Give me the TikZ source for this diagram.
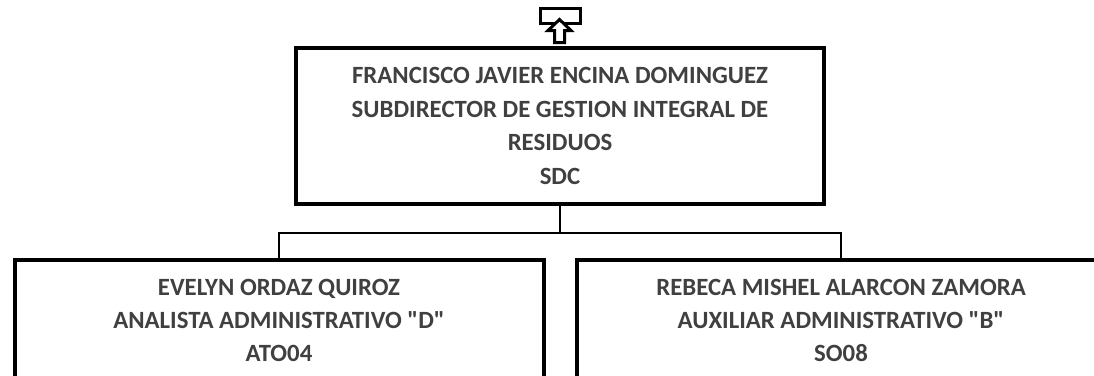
\documentclass[tikz,border=0pt]{standalone}
\usepackage{fontspec}
\setmainfont{Carlito}
\usepackage{xcolor}
\definecolor{texto}{HTML}{404040}

\begin{document}
\begin{tikzpicture}[x=1pt, y=1pt,
  level distance=194pt, sibling distance=562pt,
  edge from parent/.style={draw, line width=1.6pt},
  edge from parent path={(\tikzparentnode.south) -- +(0pt,-27pt)
    -| (\tikzchildnode.north)},
  puesto/.style={shape=rectangle, draw, line width=4pt, align=center,
    text=texto, font=\fontsize{24.8}{33}\selectfont\bfseries,
    minimum width=529pt, minimum height=120pt},
  jefe/.style={puesto, minimum width=528pt, minimum height=156pt,
    font=\fontsize{24.8}{33.7}\selectfont\bfseries}]
  \useasboundingbox (0,0) rectangle (1094,-375);
  % recuadro con la flecha de arriba
  \node[draw, line width=3pt, minimum width=40pt, minimum height=15pt,
    inner sep=0pt] (arriba) at (560.5,-16) {};
  \draw[line width=3pt, fill=white] (559.5,-19.5) -- (571,-30.5)
    -- (564.5,-30.5) -- (564.5,-42.5) -- (554.5,-42.5) -- (554.5,-30.5)
    -- (548,-30.5) -- cycle;
  \node[jefe] (sdc) at (560,-126) {FRANCISCO JAVIER ENCINA DOMINGUEZ\\
      SUBDIRECTOR DE GESTION INTEGRAL DE\\ RESIDUOS\\ SDC}
    child { node[puesto] (ato) {EVELYN ORDAZ QUIROZ\\
      ANALISTA ADMINISTRATIVO \textquotedbl D\textquotedbl\\ ATO04} }
    child { node[puesto] (so) {REBECA MISHEL ALARCON ZAMORA\\
      AUXILIAR ADMINISTRATIVO \textquotedbl B\textquotedbl\\ SO08} };
\end{tikzpicture}
\end{document}
